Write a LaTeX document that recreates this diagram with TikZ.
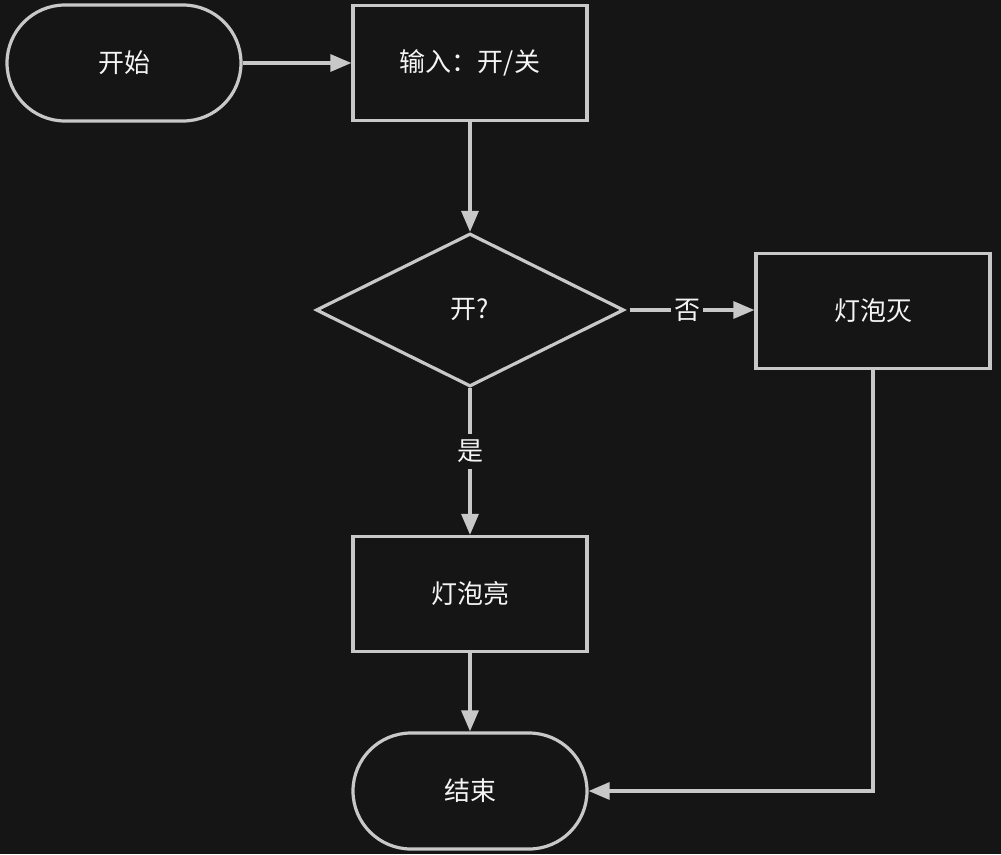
\documentclass[tikz,border=0pt]{standalone}
\usepackage{fontspec}
\setmainfont{Noto Sans CJK SC}
\usetikzlibrary{arrows.meta,shapes.geometric}
\definecolor{bg}{HTML}{151515}
\definecolor{fg}{HTML}{C8C8C8}
\definecolor{txt}{HTML}{F4F4F4}
\tikzset{
  base/.style={draw=fg, line width=3.2pt, fill=bg, text=txt, font=\fontsize{26}{30}\selectfont, inner sep=0pt},
  procbox/.style={base, rectangle, minimum width=234pt, minimum height=115pt},
  termbox/.style={base, rectangle, rounded corners=58pt, minimum width=234pt, minimum height=116pt},
  decbox/.style={base, diamond, aspect=2, minimum width=308pt, minimum height=153pt},
  conn/.style={draw=fg, line width=3.2pt, -{Triangle[length=21pt,width=17pt]}},
  lbl/.style={fill=bg, text=txt, font=\fontsize{26}{30}\selectfont, inner xsep=3pt, inner ysep=6pt}
}
\begin{document}
\begin{tikzpicture}[x=1pt,y=-1pt]
\fill[bg] (0,0) rectangle (1001,854);
\useasboundingbox (0,0) rectangle (1001,854);
\node[termbox] (start) at (124,63) {开始};
\node[procbox] (input) at (470,63) {输入：开/关};
\node[decbox] (dec) at (470,310) {开?};
\node[procbox] (off) at (873,311) {灯泡灭};
\node[procbox] (on) at (470,594) {灯泡亮};
\node[termbox] (end) at (470,791) {结束};
\coordinate (corner) at (873,791);
\draw[conn] (start) -- (input);
\draw[conn] (input) -- (dec);
\draw[conn] ([xshift=4pt]dec.east) -- node[lbl, pos=0.46] (no) {否} (dec.east -| off.west);
\draw[conn] (dec) -- node[lbl, pos=0.43] (yes) {是} (on);
\draw[conn] (on) -- (end);
\draw[conn] (off.south) -- (corner) -- (end.east);
\end{tikzpicture}
\end{document}
